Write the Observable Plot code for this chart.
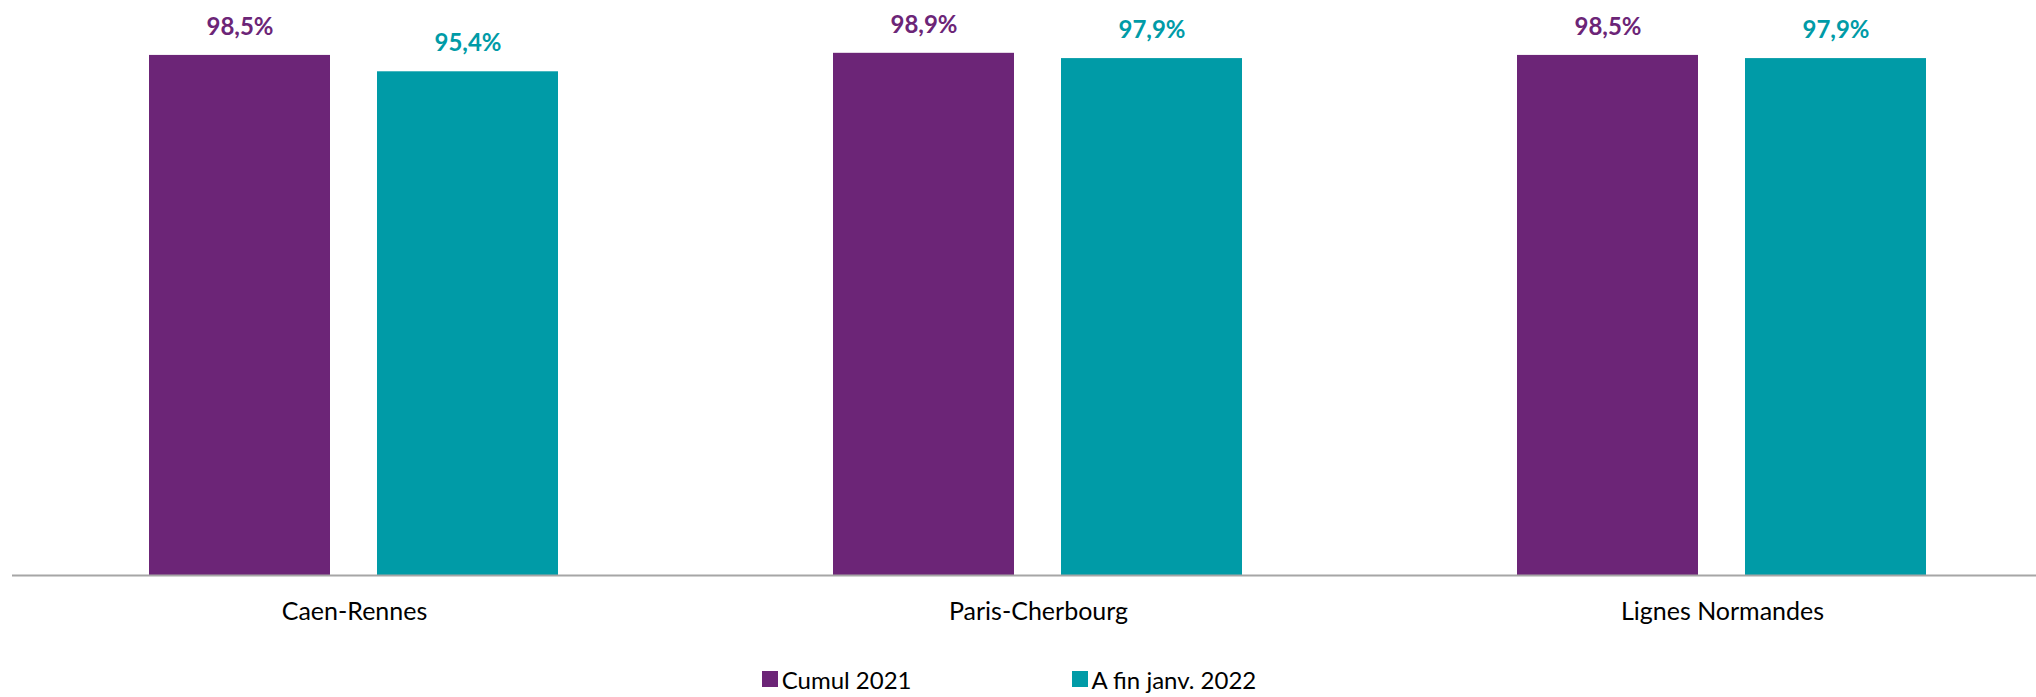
<!DOCTYPE html>
<html>
<head>
<meta charset="utf-8">
<script src="https://cdn.jsdelivr.net/npm/d3@7"></script>
<script src="https://cdn.jsdelivr.net/npm/@observablehq/plot@0.6"></script>
<style>
  html, body { margin: 0; padding: 0; background: #fff; }
  #chart { width: 2036px; font-family: Lato, "Open Sans", sans-serif; }
  div.lg-swatches.lg-swatches-wrap {
    display: flex; justify-content: center; align-items: center;
    font-family: Lato, sans-serif; font-size: 24px; color: #000;
    margin: 14px 0 0 0; min-height: 30px; padding-right: 18px;
  }
  div.lg-swatches.lg-swatches-wrap .lg-swatch { display: inline-flex; align-items: center; margin-right: 160px; }
  div.lg-swatches.lg-swatches-wrap .lg-swatch:last-child { margin-right: 0; }
  div.lg-swatches.lg-swatches-wrap .lg-swatch > svg { margin-right: 4px; }
</style>
</head>
<body>
<div id="chart"></div>
<script>
const categories = ["Caen-Rennes", "Paris-Cherbourg", "Lignes Normandes"];
const seriesNames = ["Cumul 2021", "A fin janv. 2022"];
const cumul2021 = [98.5, 98.9, 98.5];
const finJanv2022 = [95.4, 97.9, 97.9];
const seriesColors = ["#6C2577", "#009BA7"];

const data = categories.flatMap((c, i) => [
  {category: c, series: seriesNames[0], value: cumul2021[i]},
  {category: c, series: seriesNames[1], value: finJanv2022[i]}
]);

const fmt = v => v.toFixed(1).replace(".", ",") + "%";

const plot = Plot.plot({
  width: 2036,
  height: 650,
  marginTop: 47,
  marginBottom: 75,
  marginLeft: 11,
  marginRight: 0,
  style: {fontFamily: "Lato, sans-serif", background: "#fff"},
  fx: {domain: categories, range: [11, 2064], padding: 0, axis: null, label: null},
  x: {domain: seriesNames, axis: null, paddingInner: 0.205, paddingOuter: 0.596},
  y: {domain: [0, 100], axis: null},
  color: {domain: seriesNames, range: seriesColors},
  marks: [
    Plot.barY(data, {fx: "category", x: "series", y: "value", fill: "series"}),
    Plot.text(data, {fx: "category", x: "series", y: "value", text: d => fmt(d.value), fill: "series", dy: -28, fontSize: 24, fontWeight: "bold"}),
    Plot.ruleY([0], {stroke: "#a6a6a6", strokeWidth: 2}),
    Plot.text(categories, {fx: d => d, text: d => d, frameAnchor: "bottom", dy: 44, fontSize: 25, fill: "#000"})
  ]
});

const chart = document.getElementById("chart");
chart.appendChild(plot);
const legend = plot.legend("color", {swatchSize: 16, className: "lg"});
chart.appendChild(legend);
</script>
</body>
</html>
